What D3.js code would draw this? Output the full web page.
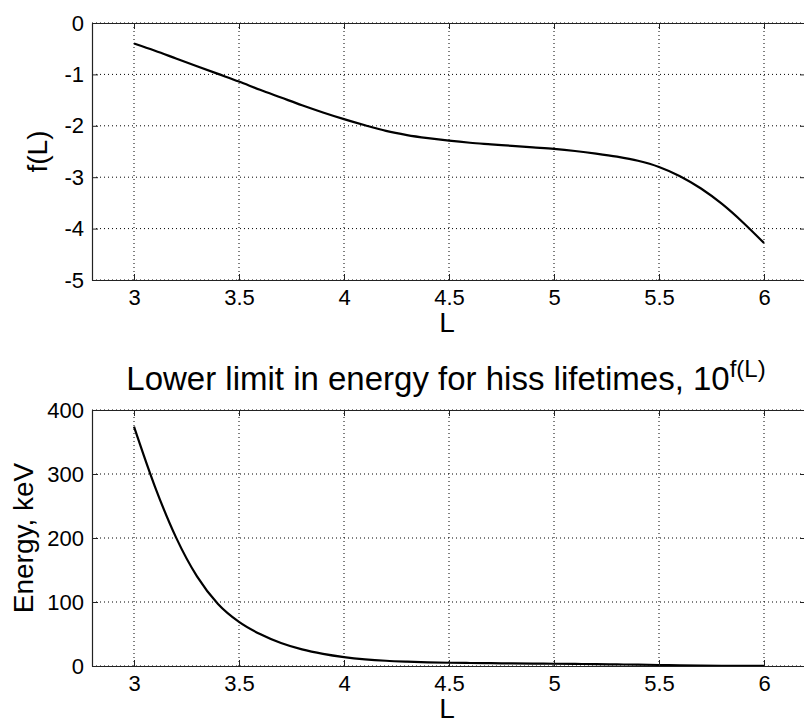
<!DOCTYPE html>
<html>
<head>
<meta charset="utf-8">
<script src="https://cdn.jsdelivr.net/npm/d3@7"></script>
<style>
  body { margin: 0; background: #fff; }
  text { font-family: "Liberation Sans", Arial, sans-serif; fill: #000; }
</style>
</head>
<body>
<div id="chart"></div>
<script>
// L values shared by both panels
const lValues = [3.0, 3.1, 3.2, 3.3, 3.4, 3.5, 3.6, 3.7, 3.8, 3.9, 4.0,
  4.1, 4.2, 4.3, 4.4, 4.5, 4.6, 4.7, 4.8, 4.9, 5.0,
  5.1, 5.2, 5.3, 5.4, 5.5, 5.6, 5.7, 5.8, 5.9, 6.0];

// f(L)
const fValues = [-0.40, -0.54, -0.69, -0.84, -0.99, -1.14, -1.30, -1.45, -1.60, -1.74, -1.87,
  -1.99, -2.10, -2.18, -2.24, -2.29, -2.33, -2.36, -2.39, -2.42, -2.45,
  -2.49, -2.54, -2.60, -2.68, -2.80, -2.98, -3.22, -3.52, -3.88, -4.28];

// Energy in keV
const energyValues = [374, 280, 201, 140, 97, 69, 50, 36, 26, 19, 14,
  10.5, 8.2, 6.8, 5.8, 5.1, 4.7, 4.4, 4.1, 3.8, 3.5,
  3.2, 2.9, 2.5, 2.1, 1.6, 1.05, 0.6, 0.3, 0.13, 0.05];

const xTicks = [3, 3.5, 4, 4.5, 5, 5.5, 6];
const fTicks = [0, -1, -2, -3, -4, -5];
const energyTicks = [0, 100, 200, 300, 400];

const width = 804, height = 724;

const svg = d3.select("#chart")
  .append("svg")
  .attr("width", width)
  .attr("height", height);

svg.append("rect").attr("width", width).attr("height", height).attr("fill", "#fff");

const x = d3.scaleLinear().domain([2.8, 6.2]).range([92, 806]);

// plain number labels, ascii minus like the original
const fmt = d => String(d);

function drawPanel(yScale, yTicks, values, yLabel, yLabelX) {
  const [y0, y1] = yScale.range(); // bottom, top
  const [x0, x1] = x.range();
  const g = svg.append("g");

  // dotted grid
  g.selectAll(".vgrid")
    .data(xTicks)
    .enter().append("line")
    .attr("x1", d => x(d)).attr("x2", d => x(d))
    .attr("y1", y0).attr("y2", y1)
    .attr("stroke", "#000")
    .attr("stroke-width", 1)
    .attr("stroke-dasharray", "1,3");

  g.selectAll(".hgrid")
    .data(yTicks)
    .enter().append("line")
    .attr("x1", x0).attr("x2", x1)
    .attr("y1", d => yScale(d)).attr("y2", d => yScale(d))
    .attr("stroke", "#000")
    .attr("stroke-width", 1)
    .attr("stroke-dasharray", "1,3");

  // curve
  const pts = lValues.map((l, i) => [l, values[i]]);
  g.append("path")
    .datum(pts)
    .attr("fill", "none")
    .attr("stroke", "#000")
    .attr("stroke-width", 2.2)
    .attr("d", d3.line()
      .x(d => x(d[0]))
      .y(d => yScale(d[1]))
      .curve(d3.curveMonotoneX));

  // axes box, ticks inward
  const bottomAxis = d3.axisBottom(x).tickValues(xTicks).tickFormat(fmt).tickSizeInner(-6).tickSizeOuter(0).tickPadding(8);
  const topAxis = d3.axisTop(x).tickValues(xTicks).tickSizeInner(-6).tickSizeOuter(0).tickFormat("");
  const leftAxis = d3.axisLeft(yScale).tickValues(yTicks).tickFormat(fmt).tickSizeInner(-6).tickSizeOuter(0).tickPadding(8);
  const rightAxis = d3.axisRight(yScale).tickValues(yTicks).tickSizeInner(-6).tickSizeOuter(0).tickFormat("");

  const gb = g.append("g").attr("transform", `translate(0,${y0})`).call(bottomAxis);
  g.append("g").attr("transform", `translate(0,${y1})`).call(topAxis);
  const gl = g.append("g").attr("transform", `translate(${x0},0)`).call(leftAxis);
  g.append("g").attr("transform", `translate(${x1},0)`).call(rightAxis);

  g.selectAll(".domain").attr("stroke", "#222").attr("stroke-width", 1.2);
  g.selectAll(".tick line").attr("stroke", "#222");

  gb.selectAll(".tick text")
    .attr("dy", null)
    .attr("y", 25)
    .style("font-size", "22px")
    .style("font-family", "'Liberation Sans', Arial, sans-serif");
  gl.selectAll(".tick text")
    .attr("x", -8)
    .style("font-size", "22px")
    .style("font-family", "'Liberation Sans', Arial, sans-serif");

  // x label
  g.append("text")
    .attr("x", (x0 + x1) / 2 - 2)
    .attr("y", y0 + 52)
    .attr("text-anchor", "middle")
    .style("font-size", "28px")
    .text("L");

  // y label
  g.append("text")
    .attr("transform", `translate(${yLabelX},${(y0 + y1) / 2}) rotate(-90)`)
    .attr("text-anchor", "middle")
    .style("font-size", "28px")
    .text(yLabel);
}

const yTop = d3.scaleLinear().domain([-5, 0]).range([280, 23]);
const yBottom = d3.scaleLinear().domain([0, 400]).range([666, 410]);

drawPanel(yTop, fTicks, fValues, "f(L)", 47);
drawPanel(yBottom, energyTicks, energyValues, "Energy, keV", 33);

// title of lower panel with superscript
const title = svg.append("text")
  .attr("x", 446)
  .attr("y", 390)
  .attr("text-anchor", "middle")
  .style("font-size", "33px");
title.append("tspan").text("Lower limit in energy for hiss lifetimes, 10");
title.append("tspan")
  .attr("dy", -13)
  .style("font-size", "24px")
  .text("f(L)");
</script>
</body>
</html>
